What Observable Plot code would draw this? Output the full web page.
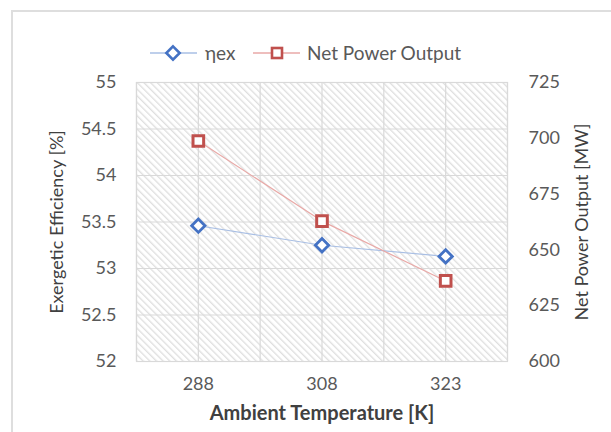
<!DOCTYPE html>
<html><head><meta charset="utf-8">
<script src="https://cdn.jsdelivr.net/npm/d3@7"></script>
<script src="https://cdn.jsdelivr.net/npm/@observablehq/plot@0.6"></script>
<style>
body{margin:0;background:#fff;font-family:Lato, "Noto Sans", sans-serif}
#wrap{position:relative;width:611px;height:432px;overflow:hidden;background:#fff}
#border{position:absolute;left:11px;top:10px;width:700px;height:500px;border-left:2px solid #dedede;border-top:2px solid #dedede;box-sizing:border-box}
#legend{position:relative;height:70px}
#chart{position:relative}
</style></head>
<body><div id="wrap"><div id="border"></div><div id="legend"></div><div id="chart"></div></div>
<script>
const temps = ["288", "308", "323"];
const etaEx = [53.46, 53.25, 53.13];
const netPower = [698.8, 662.9, 636.1];
const etaTicks = [52, 52.5, 53, 53.5, 54, 54.5, 55];
const powerTicks = [600, 625, 650, 675, 700, 725];
const seriesNames = ["ηex", "Net Power Output"];
const xLabel = "Ambient Temperature [K]";
const yLeftLabel = "Exergetic Efficiency [%]";
const yRightLabel = "Net Power Output [MW]";

const etaDomain = [52, 55], powDomain = [600, 725];
const toEta = p => etaDomain[0] + (p - powDomain[0]) * (etaDomain[1] - etaDomain[0]) / (powDomain[1] - powDomain[0]);

const rows = temps.map((t, i) => ({i, t, eta: etaEx[i], pw: toEta(netPower[i])}));
const xGrid = d3.range(-0.5, temps.length - 0.49, 0.5);

const blue = "#4472C4", blueLine = "#a9bfe4", red = "#C0504D", redLine = "#e9a9a7";
const FONT = "Lato, 'Noto Sans', sans-serif";

const svg = Plot.plot({
  width: 611, height: 362,
  marginTop: 12, marginBottom: 71, marginLeft: 136, marginRight: 104,
  style: {fontFamily: FONT, fontSize: "18px", color: "#595959", background: "transparent", overflow: "visible"},
  x: {domain: [-0.5, temps.length - 0.5]},
  y: {domain: etaDomain},
  marks: [
    Plot.frame({fill: "url(#hatch)", stroke: null}),
    Plot.ruleY(etaTicks, {stroke: "#d9d9d9", strokeWidth: 1.2}),
    Plot.ruleX(xGrid, {stroke: "#d9d9d9", strokeWidth: 1.2}),
    Plot.frame({stroke: "#d9d9d9", strokeWidth: 1.2}),
    Plot.axisX({ticks: rows.map(d => d.i), tickFormat: i => temps[i], tickSize: 0, tickPadding: 16, label: null, fill: "#595959"}),
    Plot.axisY({anchor: "left", ticks: etaTicks, tickFormat: d => String(d), tickSize: 0, tickPadding: 20, label: null, fill: "#595959"}),
    Plot.axisY({anchor: "right", ticks: powerTicks.map(toEta), tickFormat: (d, k) => String(powerTicks[k]), tickSize: 0, tickPadding: 21, label: null, fill: "#595959"}),
    Plot.line(rows, {x: "i", y: "eta", stroke: blueLine, strokeWidth: 1.2}),
    Plot.line(rows, {x: "i", y: "pw", stroke: redLine, strokeWidth: 1.2}),
    Plot.dot(rows, {x: "i", y: "eta", symbol: "diamond2", r: 6, stroke: blue, strokeWidth: 2.8, fill: "white"}),
    Plot.dot(rows, {x: "i", y: "pw", symbol: "square", r: 6, stroke: red, strokeWidth: 3, fill: "white"}),
    Plot.text([xLabel], {frameAnchor: "bottom", dy: 58, fontWeight: "bold", fontSize: 20, fill: "#404040"}),
    Plot.text([yLeftLabel], {frameAnchor: "left", dx: -79, rotate: -90, textAnchor: "middle", fontSize: 18, fill: "#404040"}),
    Plot.text([yRightLabel], {frameAnchor: "right", dx: 75, rotate: -90, textAnchor: "middle", fontSize: 18, fill: "#404040"})
  ]
});

d3.select(svg).insert("defs", ":first-child").html(
  `<pattern id="hatch" patternUnits="userSpaceOnUse" width="4.7" height="4.7" patternTransform="rotate(45)">
     <rect width="4.7" height="4.7" fill="#ffffff"></rect>
     <line x1="0" y1="1.2" x2="4.7" y2="1.2" stroke="#dedede" stroke-width="1.3"></line>
   </pattern>`);
document.getElementById("chart").appendChild(svg);

const leg = d3.select("#legend").append("svg").attr("width", 611).attr("height", 70);
const items = [
  {name: seriesNames[0], x0: 150, x1: 197, cx: 173, tx: 205, line: blueLine, col: blue, sym: "diamond"},
  {name: seriesNames[1], x0: 253, x1: 300, cx: 277, tx: 307, line: redLine, col: red, sym: "square"}
];
for (const it of items) {
  leg.append("line").attr("x1", it.x0).attr("x2", it.x1).attr("y1", 53).attr("y2", 53).attr("stroke", it.line).attr("stroke-width", 1.5);
  if (it.sym === "diamond") {
    leg.append("path").attr("d", d3.symbol(d3.symbolDiamond2, 36 * Math.PI)()).attr("transform", `translate(${it.cx},53)`)
      .attr("fill", "white").attr("stroke", it.col).attr("stroke-width", 2.6);
  } else {
    leg.append("rect").attr("x", it.cx - 5).attr("y", 48).attr("width", 10).attr("height", 10)
      .attr("fill", "white").attr("stroke", it.col).attr("stroke-width", 2.6);
  }
  leg.append("text").attr("x", it.tx).attr("y", 60).attr("font-size", 19).attr("fill", "#595959")
    .attr("font-family", FONT).text(it.name);
}
</script>
</body></html>
